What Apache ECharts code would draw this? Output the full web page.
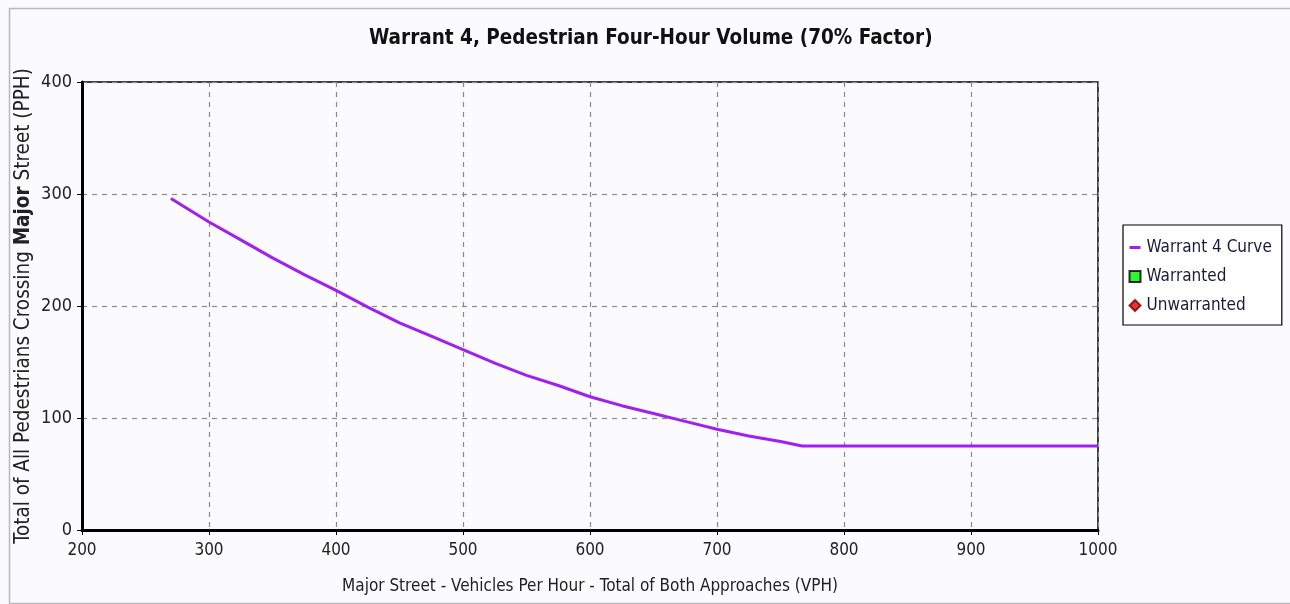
<!DOCTYPE html>
<html>
<head>
<meta charset="utf-8">
<script src="https://cdn.jsdelivr.net/npm/echarts@6/dist/echarts.min.js"></script>
<style>
html,body{margin:0;padding:0;background:#fbfbfe;}
#chart{width:1290px;height:604px;}
</style>
</head>
<body>
<div id="chart"></div>
<script>
// Warrant 4 curve: [major street VPH, pedestrians PPH]
var curveX = [270, 300, 325, 350, 375, 400, 425, 450, 475, 500, 525, 550, 575, 600, 625, 650, 675, 700, 725, 750, 767, 1000];
var curveY = [296, 275, 259, 243, 228, 214, 199, 185, 173, 161, 149, 138, 129, 119, 111, 104, 97, 90, 84, 79, 75, 75];
var warrantedPoints = [];
var unwarrantedPoints = [];
var xTicks = [200, 300, 400, 500, 600, 700, 800, 900, 1000];
var yTicks = [0, 100, 200, 300, 400];

var FONT = "'Liberation Sans Narrow', 'DejaVu Sans Condensed', 'Liberation Sans', sans-serif";
var curveData = curveX.map(function (x, i) { return [x, curveY[i]]; });

var chart = echarts.init(document.getElementById('chart'), null, {renderer: 'canvas'});
chart.setOption({
  backgroundColor: '#fbfbfe',
  animation: false,
  title: {
    text: 'Warrant 4, Pedestrian Four-Hour Volume (70% Factor)',
    left: 369,
    top: 28,
    padding: 0,
    textStyle: {fontFamily: FONT, fontSize: 20.5, fontWeight: 'bold', color: '#111'}
  },
  graphic: [{
    type: 'rect', left: 7, top: 6, z: -1,
    shape: {width: 1300, height: 595},
    style: {fill: 'none', stroke: '#b8b8b8', lineWidth: 1.5}
  }],
  legend: {
    orient: 'vertical',
    left: 1123, top: 225,
    padding: [14, 10, 11, 5],
    itemGap: 12,
    itemWidth: 11, itemHeight: 11,
    backgroundColor: '#ffffff',
    borderColor: '#000', borderWidth: 1.2,
    textStyle: {fontFamily: FONT, fontSize: 17, color: '#1a1a3a', padding: [0, 0, 0, 1]},
    data: [
      {name: 'Warrant 4 Curve', itemStyle: {color: 'rgba(0,0,0,0)', borderWidth: 0, opacity: 0},
       lineStyle: {width: 3, color: '#a020f0'}},
      {name: 'Warranted'},
      {name: 'Unwarranted'}
    ]
  },
  grid: {
    left: 82, right: 192, top: 82, bottom: 74,
    show: true, borderColor: '#000', borderWidth: 1.5, backgroundColor: '#fbfbfe'
  },
  xAxis: {
    type: 'value', min: xTicks[0], max: xTicks[xTicks.length - 1], interval: 100,
    name: 'Major Street - Vehicles Per Hour - Total of Both Approaches (VPH)',
    nameLocation: 'middle', nameGap: 48,
    nameTextStyle: {fontFamily: FONT, fontSize: 17, color: '#222'},
    axisLine: {show: true, onZero: false, lineStyle: {color: '#000', width: 3}},
    axisTick: {show: true, length: 5, lineStyle: {color: '#000', width: 1}},
    axisLabel: {fontFamily: FONT, fontSize: 17, color: '#222', margin: 12,
      formatter: function (v) { return String(v); }},
    splitLine: {show: true, lineStyle: {color: '#8a8a8a', type: [5, 5], width: 1.2}}
  },
  yAxis: {
    type: 'value', min: yTicks[0], max: yTicks[yTicks.length - 1], interval: 100,
    name: 'Total of All Pedestrians Crossing {b|Major} Street (PPH)',
    nameLocation: 'middle', nameGap: 48,
    nameMoveOverlap: false,
    nameTextStyle: {fontFamily: FONT, fontSize: 20.5, color: '#222',
      rich: {b: {fontFamily: FONT, fontSize: 20.5, fontWeight: 'bold', color: '#222'}}},
    axisLine: {show: true, onZero: false, lineStyle: {color: '#000', width: 3}},
    axisTick: {show: true, length: 5, lineStyle: {color: '#000', width: 1}},
    axisLabel: {fontFamily: FONT, fontSize: 18, color: '#222', margin: 10,
      formatter: function (v) { return String(v); }},
    splitLine: {show: true, lineStyle: {color: '#8a8a8a', type: [5, 5], width: 1.2}}
  },
  series: [{
    name: 'Warrant 4 Curve',
    type: 'line',
    data: curveData,
    showSymbol: false,
    symbol: 'none',
    lineStyle: {color: '#a020f0', width: 3},
    itemStyle: {color: '#a020f0'},
    z: 5
  }, {
    name: 'Warranted',
    type: 'scatter',
    data: warrantedPoints,
    symbol: 'rect',
    symbolSize: 11,
    itemStyle: {color: '#00ee00', borderColor: '#000', borderWidth: 1.5}
  }, {
    name: 'Unwarranted',
    type: 'scatter',
    data: unwarrantedPoints,
    symbol: 'diamond',
    symbolSize: 11,
    itemStyle: {color: '#e00000', borderColor: '#700', borderWidth: 0.5}
  }]
});
</script>
</body>
</html>
